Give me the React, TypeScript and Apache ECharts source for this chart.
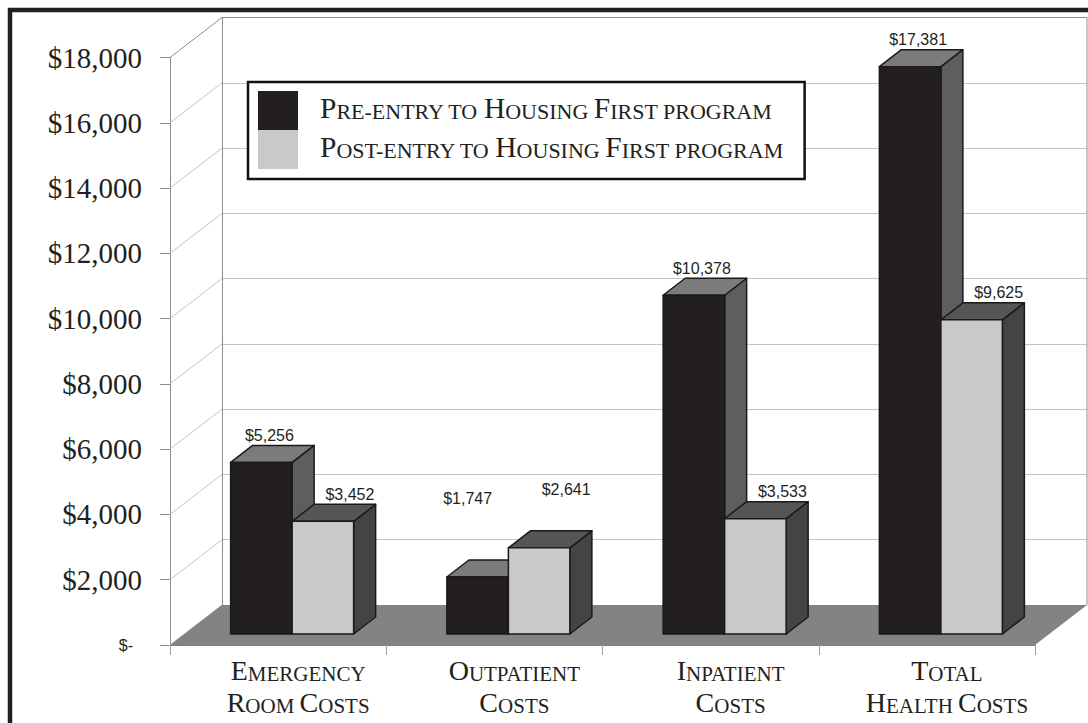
import React, { useEffect, useRef } from 'react';
import * as echarts from 'echarts';

// ---------- data ----------
const categories = ['Emergency\nRoom Costs', 'Outpatient\nCosts', 'Inpatient\nCosts', 'Total\nHealth Costs'];
const seriesNames = ['Pre-entry to Housing First program', 'Post-entry to Housing First program'];
const preEntry = [5256, 1747, 10378, 17381];
const postEntry = [3452, 2641, 3533, 9625];
const yTicks = [0, 2000, 4000, 6000, 8000, 10000, 12000, 14000, 16000, 18000];

// ---------- style / layout constants ----------
const SERIF = '"Liberation Serif", "Times New Roman", serif';
const SANS = '"Liberation Sans", Arial, sans-serif';
const TEXT = '#231f20';
const FRONT = { left: 170, top: 57.5, width: 865, height: 587.5 };
const DEPTH = { x: 52, y: 40 };
const BAR_FRONT = { x: 14, y: 11 };
const BAR_DEPTH = { x: 22, y: 17 };
const BAR_W = 61.5;
const BAR_STYLE = [
  { front: '#231f20', top: '#7b7b7d', side: '#5e5e60', labelDx: 8 },
  { front: '#c9c9cb', top: '#555557', side: '#444446', labelDx: 27 },
];
// manual label nudges (Outpatient labels were moved in the original)
const LABEL_NUDGE = [
  [[0, 0], [-18, -51], [0, 0], [0, 0]],
  [[0, 0], [0, -31], [0, 0], [0, 0]],
];

function smallCaps(s: string): string {
  let out = '';
  let run = '';
  const flush = () => {
    if (run) {
      out += `{s|${run.toUpperCase()}}`;
      run = '';
    }
  };
  for (const ch of s) {
    if (ch >= 'A' && ch <= 'Z') {
      flush();
      out += `{b|${ch}}`;
    } else run += ch;
  }
  flush();
  return out;
}

const capsRich = (gap: number, big: number, small: number, extra: any) => ({
  b: { fontFamily: SERIF, fontSize: big, color: TEXT, verticalAlign: 'bottom', ...extra },
  s: { fontFamily: SERIF, fontSize: small, color: TEXT, verticalAlign: 'bottom', ...extra },
  g: { width: gap, fontSize: small, verticalAlign: 'bottom', ...extra },
});

function makeBarRenderer(si: number) {
  return (params: any, api: any) => {
    const idx = api.value(0);
    const v = api.value(1);
    const base = api.coord([idx, 0]);
    const top = api.coord([idx, v]);
    const cx = base[0] + BAR_FRONT.x;
    const x0 = si === 0 ? cx - BAR_W : cx;
    const x1 = x0 + BAR_W;
    const yb = base[1] - BAR_FRONT.y;
    const yt = top[1] - BAR_FRONT.y;
    const dx = BAR_DEPTH.x;
    const dy = BAR_DEPTH.y;
    const st = BAR_STYLE[si];
    const stroke = '#1a1a1a';
    const nudge = LABEL_NUDGE[si][idx] || [0, 0];
    return {
      type: 'group',
      children: [
        {
          type: 'polygon',
          shape: { points: [[x1, yb], [x1, yt], [x1 + dx, yt - dy], [x1 + dx, yb - dy]] },
          style: { fill: st.side, stroke, lineWidth: 1.5, lineJoin: 'round' },
        },
        {
          type: 'polygon',
          shape: { points: [[x0, yt], [x1, yt], [x1 + dx, yt - dy], [x0 + dx, yt - dy]] },
          style: { fill: st.top, stroke, lineWidth: 1.5, lineJoin: 'round' },
        },
        {
          type: 'rect',
          shape: { x: x0, y: yt, width: BAR_W, height: yb - yt },
          style: { fill: st.front, stroke, lineWidth: 1.5, lineJoin: 'round' },
        },
        {
          type: 'text',
          style: {
            text: '$' + Number(v).toLocaleString('en-US'),
            x: x0 + BAR_W / 2 + st.labelDx + nudge[0],
            y: yt - 19 + nudge[1],
            align: 'center',
            verticalAlign: 'bottom',
            fontFamily: SANS,
            fontSize: 16,
            fill: TEXT,
          },
        },
      ],
    };
  };
}

function renderWalls(params: any, api: any) {
  const cs = params.coordSys;
  const x0 = cs.x;
  const x1 = cs.x + cs.width;
  const yb = cs.y + cs.height;
  const children: any[] = [];
  yTicks.forEach((t, i) => {
    const y = api.coord([0, t])[1];
    children.push({
      type: 'line',
      shape: { x1: x0, y1: y, x2: x0 + DEPTH.x, y2: y - DEPTH.y },
      style: { stroke: i === yTicks.length - 1 ? '#8c8c8c' : '#c4c4c4', lineWidth: 1 },
    });
  });
  children.push({
    type: 'line',
    shape: { x1: x1 + DEPTH.x, y1: cs.y - DEPTH.y, x2: x1 + DEPTH.x, y2: yb - DEPTH.y },
    style: { stroke: '#8c8c8c', lineWidth: 1 },
  });
  children.push({
    type: 'polygon',
    shape: { points: [[x0, yb], [x1, yb], [x1 + DEPTH.x, yb - DEPTH.y], [x0 + DEPTH.x, yb - DEPTH.y]] },
    style: { fill: '#838385', stroke: 'none' },
  });
  return { type: 'group', children };
}

const gridColors = yTicks.map((_, i) => (i === yTicks.length - 1 ? '#8c8c8c' : '#c4c4c4'));

const option: any = {
  animation: false,
  backgroundColor: '#ffffff',
  grid: [
    { left: FRONT.left, top: FRONT.top, width: FRONT.width, height: FRONT.height, outerBoundsMode: 'none', containLabel: false },
    {
      left: FRONT.left + DEPTH.x,
      top: FRONT.top - DEPTH.y,
      width: FRONT.width,
      height: FRONT.height,
      outerBoundsMode: 'none',
      containLabel: false,
    },
  ],
  xAxis: [
    {
      gridIndex: 0,
      type: 'category',
      data: categories,
      axisLine: { show: true, lineStyle: { color: '#838385' } },
      axisTick: { show: true, length: 10, lineStyle: { color: '#a0a0a0' } },
      splitLine: { show: false },
      axisLabel: {
        margin: 7,
        interval: 0,
        color: TEXT,
        formatter: (val: string) =>
          val
            .split('\n')
            .map((line) => '{g|\u00a0}' + smallCaps(line))
            .join('\n'),
        rich: capsRich(40, 28, 21, { lineHeight: 32 }),
      },
    },
    { gridIndex: 1, type: 'category', data: categories, show: false },
  ],
  yAxis: [
    {
      gridIndex: 0,
      type: 'value',
      min: 0,
      max: 18000,
      interval: 2000,
      axisLine: { show: true, lineStyle: { color: '#8c8c8c' } },
      axisTick: { show: true, length: 10, lineStyle: { color: '#8c8c8c' } },
      splitLine: { show: false },
      axisLabel: {
        margin: 28,
        fontFamily: SERIF,
        fontSize: 29,
        color: TEXT,
        formatter: (v: number) => (v === 0 ? '{s|$-}' : '$' + v.toLocaleString('en-US')),
        rich: { s: { fontFamily: SANS, fontSize: 16, color: TEXT, padding: [0, 9, 0, 0] } },
      },
    },
    {
      gridIndex: 1,
      type: 'value',
      min: 0,
      max: 18000,
      interval: 2000,
      axisLine: { show: true, lineStyle: { color: '#8c8c8c' } },
      axisTick: { show: false },
      axisLabel: { show: false },
      splitLine: { show: true, lineStyle: { color: gridColors, width: 1 } },
    },
  ],
  legend: {
    left: 248,
    top: 82,
    orient: 'vertical',
    itemWidth: 40,
    itemHeight: 39,
    itemGap: 0,
    padding: [9, 21, 10, 10],
    borderColor: '#111111',
    borderWidth: 2.5,
    backgroundColor: '#ffffff',
    data: seriesNames.map((name) => ({ name, icon: 'rect' })),
    formatter: (name: string) => '{g|\u00a0}' + smallCaps(name),
    textStyle: { rich: capsRich(17, 29.5, 22, { padding: [0, 0, 6, 0] }) },
    selectedMode: false,
  },
  graphic: [
    {
      type: 'rect',
      silent: true,
      z: -10,
      shape: { x: 10, y: 10, width: 1300, height: 900 },
      style: { fill: 'none', stroke: '#231f20', lineWidth: 4.5 },
    },
  ],
  series: [
    {
      type: 'custom',
      name: 'walls',
      xAxisIndex: 0,
      yAxisIndex: 0,
      z: 1,
      silent: true,
      data: [[0, 0]],
      renderItem: renderWalls,
    },
    {
      type: 'custom',
      name: seriesNames[0],
      xAxisIndex: 0,
      yAxisIndex: 0,
      z: 3,
      itemStyle: { color: BAR_STYLE[0].front },
      data: preEntry.map((v, i) => [i, v]),
      encode: { x: 0, y: 1 },
      renderItem: makeBarRenderer(0),
    },
    {
      type: 'custom',
      name: seriesNames[1],
      xAxisIndex: 0,
      yAxisIndex: 0,
      z: 4,
      itemStyle: { color: BAR_STYLE[1].front },
      data: postEntry.map((v, i) => [i, v]),
      encode: { x: 0, y: 1 },
      renderItem: makeBarRenderer(1),
    },
  ],
};

export default function App() {
  const ref = useRef<HTMLDivElement>(null);
  useEffect(() => {
    if (!ref.current) return;
    const chart = echarts.init(ref.current, null, { renderer: 'svg' });
    chart.setOption(option);
    return () => chart.dispose();
  }, []);
  return (
    <div
      ref={ref}
      style={{ position: 'absolute', left: 0, top: 0, width: 1088, height: 723, background: '#ffffff' }}
    />
  );
}
